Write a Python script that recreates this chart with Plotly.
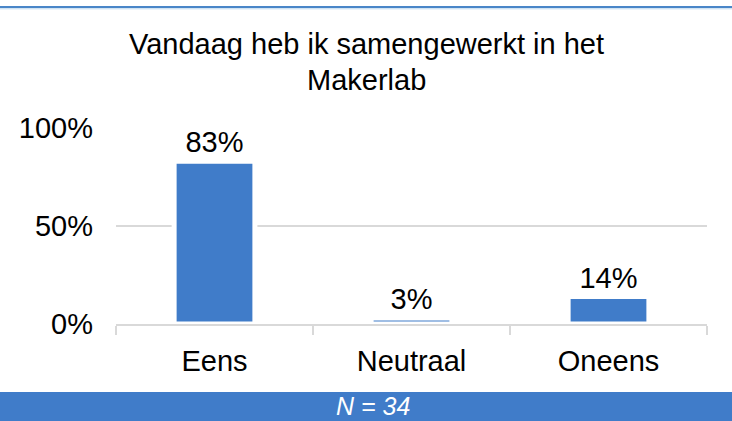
import plotly.graph_objects as go

categories = ["Eens", "Neutraal", "Oneens"]
values = [83, 3, 14]
value_labels = ["83%", "3%", "14%"]
y_ticks = [0, 50, 100]
y_tick_labels = ["0%", "50%", "100%"]
title_lines = ["Vandaag heb ik samengewerkt in het", "Makerlab"]
footer_text = "N = 34"

BLUE = "#407CC9"
FONT = "Arial, Liberation Sans, sans-serif"
FS = 29

W, H = 732, 421
ML, MR, MT, MB = 116, 25, 128, 97
plot_h = H - MT - MB
plot_w = W - ML - MR

def py(pix):
    return (H - MB - pix) / plot_h

def px(pix):
    return (pix - ML) / plot_w

fig = go.Figure()
fig.add_trace(go.Bar(
    x=categories, y=values, text=value_labels,
    textposition="outside", cliponaxis=False,
    textfont=dict(family=FONT, size=FS, color="black"),
    marker=dict(color=BLUE, line=dict(color="white", width=5)),
    width=0.41,
))

fig.update_layout(
    width=W, height=H,
    margin=dict(l=ML, r=MR, t=MT, b=MB),
    paper_bgcolor="white", plot_bgcolor="white",
    showlegend=False,
    font=dict(family=FONT, color="black"),
    xaxis=dict(
        type="category", tickson="boundaries",
        showline=True, linecolor="#D9D9D9", linewidth=1.5,
        ticks="outside", ticklen=9, tickcolor="#D9D9D9", tickwidth=1.5,
        showgrid=False, ticklabelstandoff=10,
        tickfont=dict(family=FONT, size=FS, color="black"),
    ),
    yaxis=dict(
        range=[0, 100], tickvals=y_ticks, ticktext=y_tick_labels,
        showgrid=True, gridcolor="#D9D9D9", gridwidth=1.5,
        zeroline=False, showline=False, ticks="",
        ticklabelstandoff=22,
        tickfont=dict(family=FONT, size=FS, color="black"),
    ),
    shapes=[
        dict(type="line", xref="paper", yref="paper", x0=-0.3, x1=1.3,
             y0=py(7), y1=py(7), line=dict(color="#4A86C8", width=2), layer="above"),
        dict(type="line", xref="paper", yref="paper", x0=-0.3, x1=1.3,
             y0=py(8.8), y1=py(8.8), line=dict(color="#BDD7EE", width=1), layer="above"),
        dict(type="rect", xref="paper", yref="paper", x0=-0.3, x1=1.3,
             y0=py(H + 5), y1=py(392), fillcolor=BLUE, line=dict(width=0), layer="below"),
    ],
    annotations=[
        dict(text=title_lines[0], xref="paper", yref="paper",
             x=px(W / 2), y=py(44), xanchor="center", yanchor="middle",
             showarrow=False, font=dict(family=FONT, size=FS, color="black")),
        dict(text=title_lines[1], xref="paper", yref="paper",
             x=px(W / 2), y=py(80), xanchor="center", yanchor="middle",
             showarrow=False, font=dict(family=FONT, size=FS, color="black")),
        dict(text=footer_text, xref="paper", yref="paper",
             x=px(373), y=py(406), xanchor="center", yanchor="middle",
             showarrow=False,
             font=dict(family=FONT, size=25, color="white", style="italic")),
    ],
)

fig.write_html("out.html", config={"displayModeBar": False},
               post_script="document.body.style.margin='0';document.body.style.padding='0';")
